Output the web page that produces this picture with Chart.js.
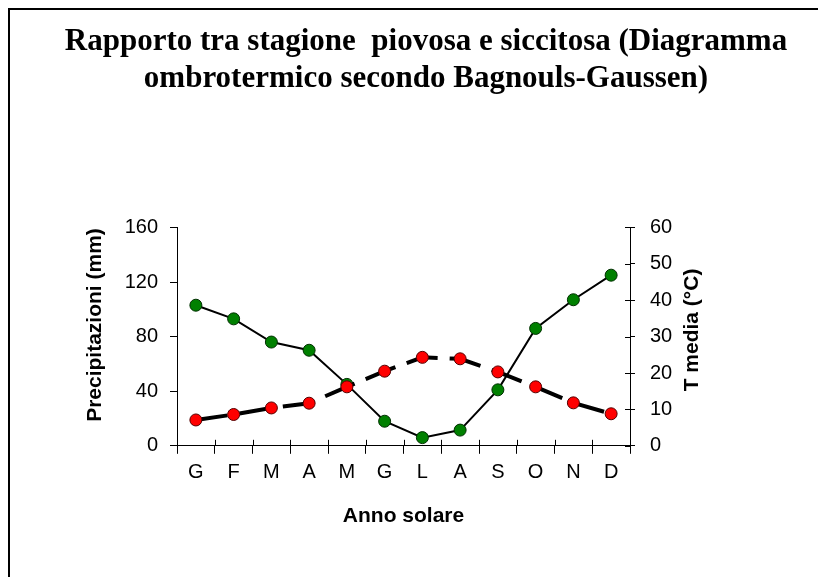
<!DOCTYPE html>
<html>
<head>
<meta charset="utf-8">
<script src="https://cdn.jsdelivr.net/npm/chart.js@4"></script>
<style>
  html, body { margin: 0; padding: 0; background: #fff; }
  canvas { display: block; }
</style>
</head>
<body>
<canvas id="c" width="818" height="577"></canvas>
<script>
const months = ['G', 'F', 'M', 'A', 'M', 'G', 'L', 'A', 'S', 'O', 'N', 'D'];
const precipitazioni = [103, 93, 76, 70, 45, 18, 6, 11.5, 41, 86, 107, 125];
const temperature = [7.1, 8.6, 10.4, 11.7, 16.2, 20.5, 24.3, 23.9, 20.3, 16.2, 11.8, 8.8];
const precTicks = [0, 40, 80, 120, 160];
const tempTicks = [0, 10, 20, 30, 40, 50, 60];
const titleLines = ['Rapporto tra stagione  piovosa e siccitosa (Diagramma', 'ombrotermico secondo Bagnouls-Gaussen)'];
const leftTitle = 'Precipitazioni (mm)';
const rightTitle = 'T media (°C)';
const xTitle = 'Anno solare';

const SANS = "'Liberation Sans', Arial, sans-serif";
const SERIF = "'Liberation Serif', 'Times New Roman', serif";
Chart.defaults.color = '#000';

const framePlugin = {
  id: 'frame',
  beforeDraw(chart) {
    const ctx = chart.ctx;
    ctx.save();
    ctx.fillStyle = '#fff';
    ctx.fillRect(0, 0, chart.width, chart.height);
    ctx.strokeStyle = '#000';
    ctx.lineWidth = 2;
    ctx.beginPath();
    ctx.moveTo(9, chart.height);
    ctx.lineTo(9, 9);
    ctx.lineTo(chart.width, 9);
    ctx.stroke();
    ctx.restore();
  },
  afterDraw(chart) {
    const ctx = chart.ctx;
    const ca = chart.chartArea;
    const x = chart.scales.x, y1 = chart.scales.y1;
    ctx.save();
    ctx.strokeStyle = '#000';
    ctx.lineWidth = 1;
    ctx.beginPath();
    const n = months.length;
    for (let i = 1; i < n; i++) {
      const px = Math.round(x.left + i * (x.right - x.left) / n) + 0.5;
      ctx.moveTo(px, ca.bottom - 6);
      ctx.lineTo(px, ca.bottom);
    }
    tempTicks.forEach(v => {
      const py = Math.round(y1.getPixelForValue(v)) + 0.5;
      ctx.moveTo(ca.right - 5, py);
      ctx.lineTo(ca.right, py);
    });
    ctx.stroke();
    ctx.fillStyle = '#000';
    ctx.font = 'bold 21px ' + SANS;
    ctx.textAlign = 'center';
    ctx.textBaseline = 'middle';
    ctx.save();
    ctx.translate(95, 325);
    ctx.rotate(-Math.PI / 2);
    ctx.fillText(leftTitle, 0, 0);
    ctx.restore();
    ctx.save();
    ctx.translate(692, 330);
    ctx.rotate(-Math.PI / 2);
    ctx.fillText(rightTitle, 0, 0);
    ctx.restore();
    ctx.restore();
  }
};

new Chart(document.getElementById('c'), {
  type: 'line',
  data: {
    labels: months,
    datasets: [
      {
        label: 'Temperatura',
        data: temperature,
        yAxisID: 'y1',
        borderColor: '#000',
        borderWidth: 4,
        borderDash: [32, 12],
        pointBackgroundColor: '#ff0000',
        pointBorderColor: '#500',
        pointBorderWidth: 1,
        pointRadius: 6,
        tension: 0,
        order: 0
      },
      {
        label: 'Precipitazioni',
        data: precipitazioni,
        yAxisID: 'y',
        borderColor: '#000',
        borderWidth: 2,
        pointBackgroundColor: '#008000',
        pointBorderColor: '#003000',
        pointBorderWidth: 1,
        pointRadius: 6,
        tension: 0,
        order: 1
      }
    ]
  },
  options: {
    responsive: false,
    animation: false,
    devicePixelRatio: 1,
    layout: { padding: { left: 34, right: 0, top: 0, bottom: 44 } },
    plugins: {
      legend: { display: false },
      tooltip: { enabled: false },
      title: {
        display: true,
        text: titleLines,
        color: '#000',
        font: { family: SERIF, size: 31, weight: 'bold', lineHeight: 1.2 },
        padding: { top: 23, bottom: 130 }
      }
    },
    scales: {
      x: {
        offset: true,
        grid: { display: true, drawOnChartArea: false, drawTicks: true, tickLength: 8, color: '#000', offset: true },
        border: { display: true, color: '#000', width: 1 },
        ticks: { font: { family: SANS, size: 20 }, padding: 7, color: '#000', maxRotation: 0 },
        title: { display: true, text: xTitle, color: '#000', font: { family: SANS, size: 21, weight: 'bold' }, padding: { top: 12, bottom: 4 } }
      },
      y: {
        position: 'left',
        min: 0, max: 160,
        afterBuildTicks(scale) { scale.ticks = precTicks.map(v => ({ value: v })); },
        afterFit(scale) { scale.width = 143; },
        grid: { display: true, drawOnChartArea: false, drawTicks: true, tickLength: 7, color: '#000' },
        border: { display: true, color: '#000', width: 1 },
        ticks: { font: { family: SANS, size: 20 }, padding: 12, color: '#000' }
      },
      y1: {
        position: 'right',
        min: 0, max: 60,
        afterBuildTicks(scale) { scale.ticks = tempTicks.map(v => ({ value: v })); },
        afterFit(scale) { scale.width = 188; },
        grid: { display: true, drawOnChartArea: false, drawTicks: true, tickLength: 5, color: '#000' },
        border: { display: true, color: '#000', width: 1 },
        ticks: { font: { family: SANS, size: 20 }, padding: 15, color: '#000' }
      }
    }
  },
  plugins: [framePlugin]
});
</script>
</body>
</html>
